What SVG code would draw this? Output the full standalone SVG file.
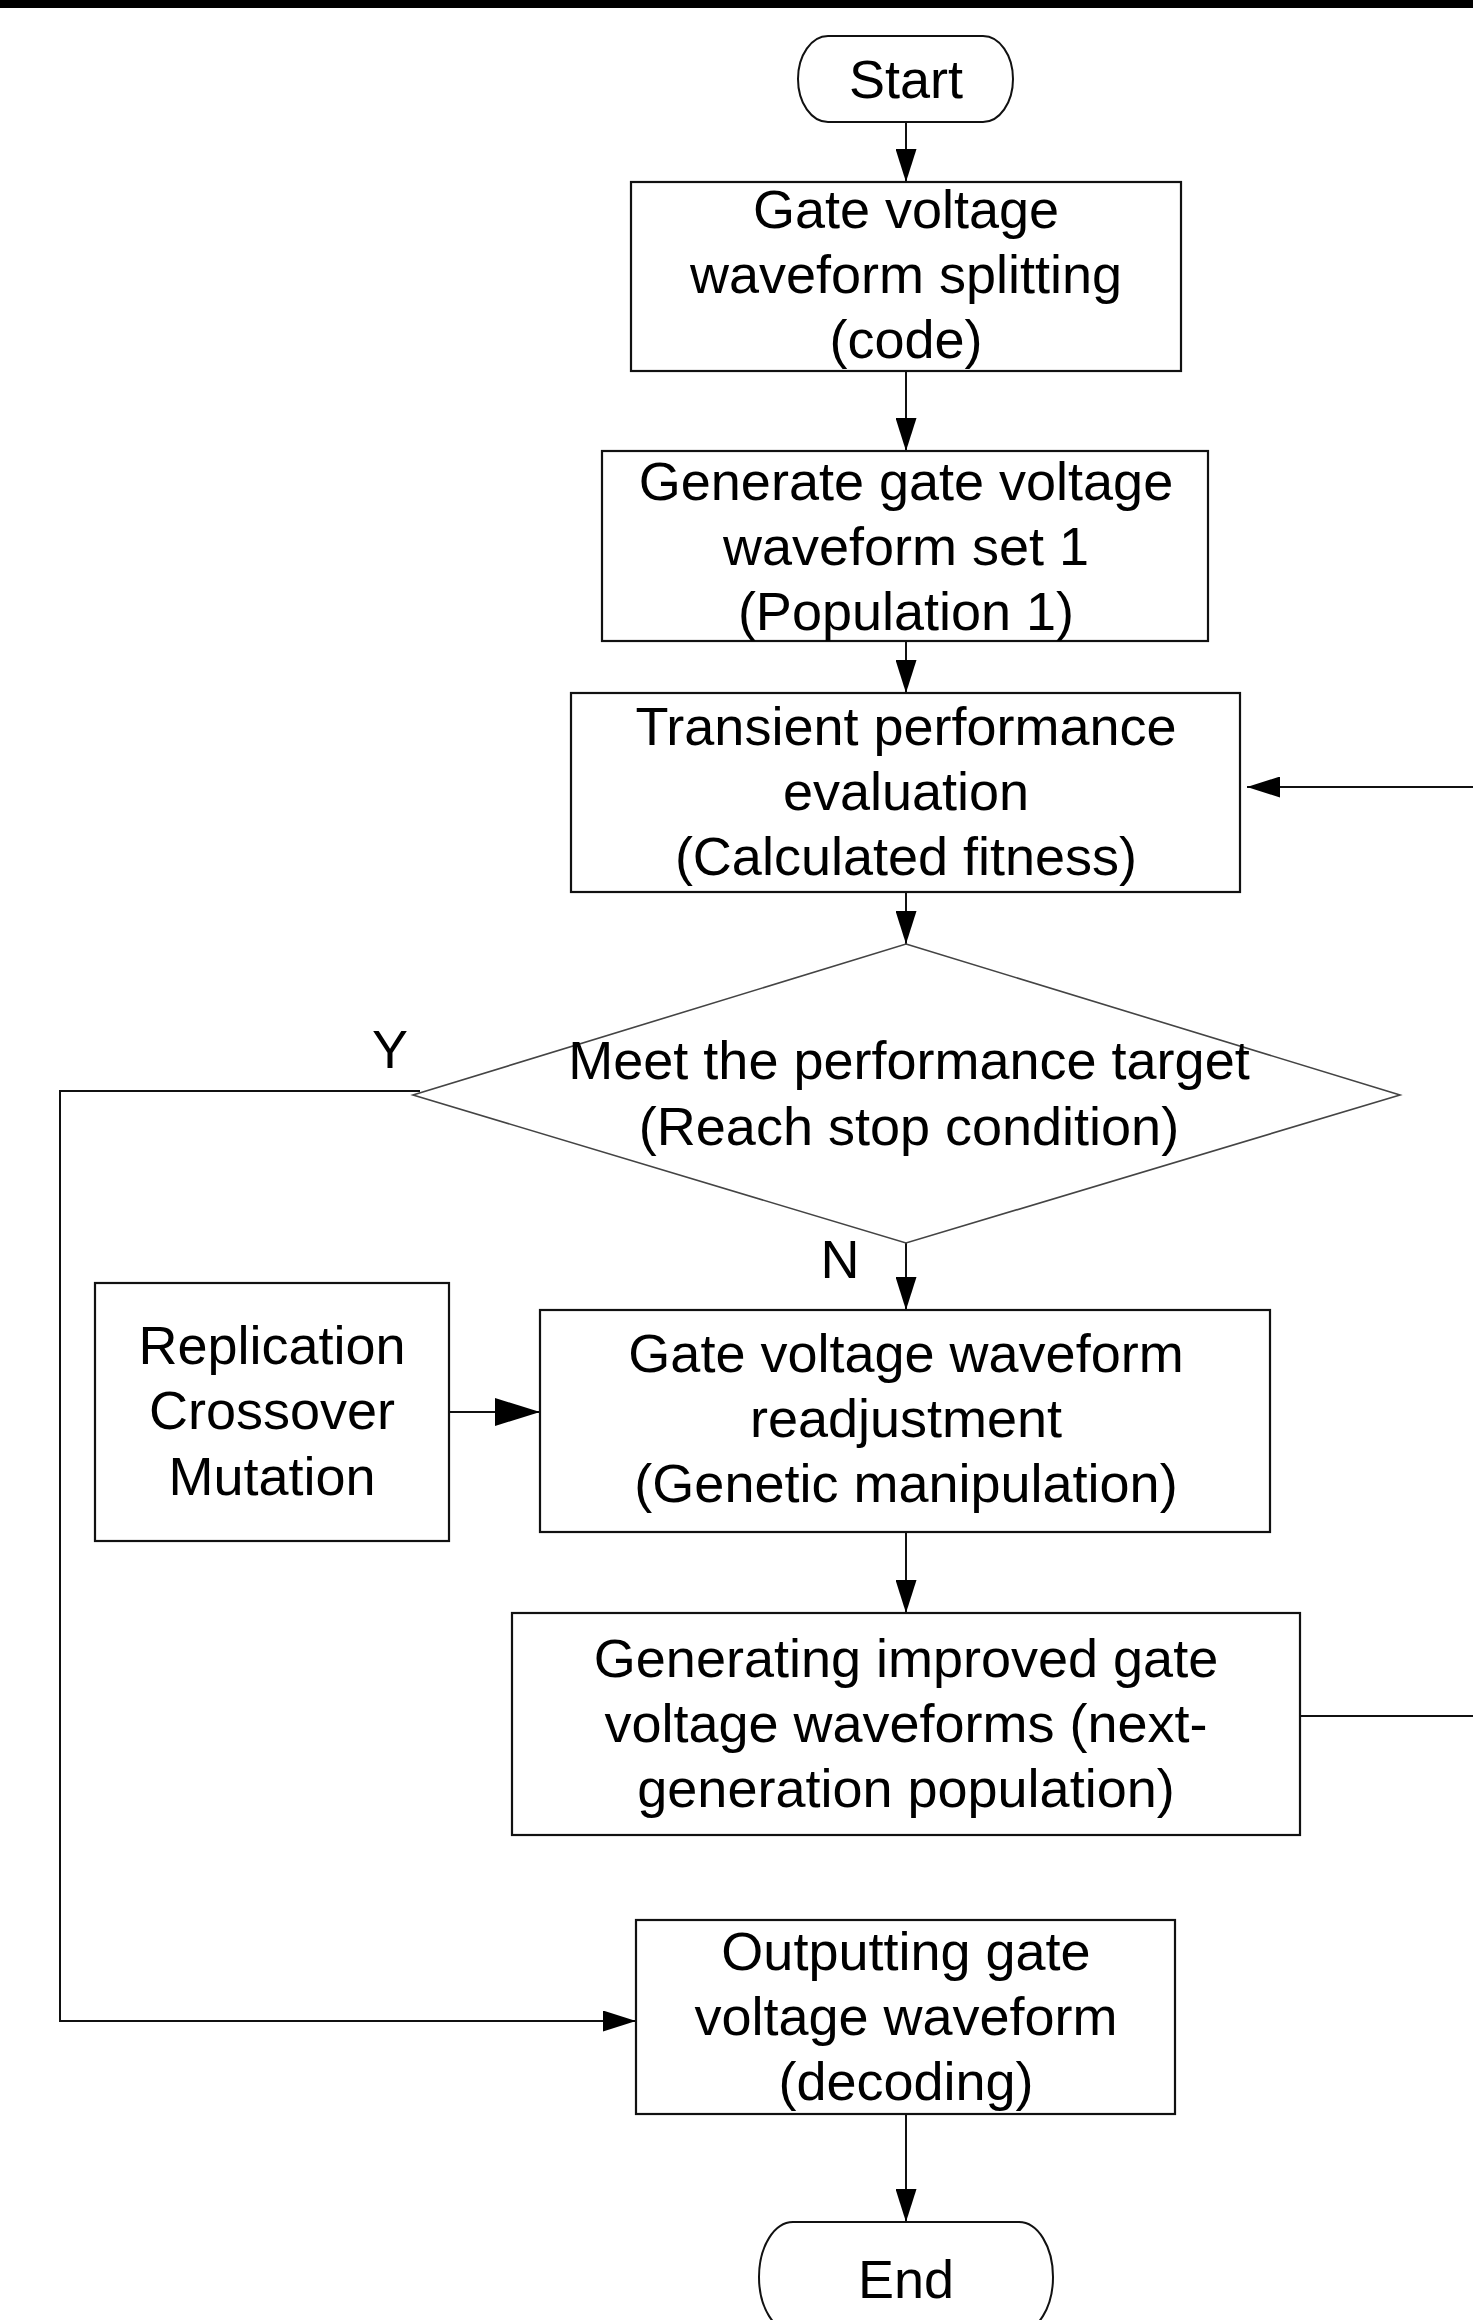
<svg xmlns="http://www.w3.org/2000/svg" width="1473" height="2320" viewBox="0 0 1473 2320">
  <defs>
    <style>
      .box { fill: #ffffff; stroke: #111111; stroke-width: 2.2; }
      .term { fill: #ffffff; stroke: #111111; stroke-width: 2; }
      .dia { fill: #ffffff; stroke: #444444; stroke-width: 1.6; }
      .wire { fill: none; stroke: #111111; stroke-width: 2; }
      .lbl { font-family: "Liberation Sans", Arial, sans-serif; font-size: 54px; fill: #000000; text-anchor: middle; }
    </style>
    <marker id="arr" markerUnits="userSpaceOnUse" markerWidth="33" markerHeight="21" refX="33" refY="10.5" orient="auto">
      <path d="M0,0 L33,10.5 L0,21 Z" fill="#000000"/>
    </marker>
    <marker id="arrBig" markerUnits="userSpaceOnUse" markerWidth="45" markerHeight="28" refX="45" refY="14" orient="auto">
      <path d="M0,0 L45,14 L0,28 Z" fill="#000000"/>
    </marker>
  </defs>

  <rect x="0" y="0" width="1473" height="2320" fill="#ffffff"/>
  <rect x="0" y="0" width="1473" height="8" fill="#000000"/>

  <!-- connectors -->
  <g id="connectors">
    <line class="wire" x1="906" y1="122" x2="906" y2="182" marker-end="url(#arr)"/>
    <line class="wire" x1="906" y1="371" x2="906" y2="451" marker-end="url(#arr)"/>
    <line class="wire" x1="906" y1="641" x2="906" y2="693" marker-end="url(#arr)"/>
    <line class="wire" x1="906" y1="892" x2="906" y2="944" marker-end="url(#arr)"/>
    <line class="wire" x1="906" y1="1243" x2="906" y2="1310" marker-end="url(#arr)"/>
    <line class="wire" x1="449" y1="1412" x2="540" y2="1412" marker-end="url(#arrBig)"/>
    <line class="wire" x1="906" y1="1532" x2="906" y2="1613" marker-end="url(#arr)"/>
    <!-- loop back from the next generation to the evaluation step (return leg runs past the right edge) -->
    <path class="wire" d="M1300,1716 H1500 V787 H1247" marker-end="url(#arr)"/>
    <!-- Y branch to the output step -->
    <path class="wire" d="M420,1091 H60 V2021 H636" marker-end="url(#arr)"/>
    <line class="wire" x1="906" y1="2114" x2="906" y2="2222" marker-end="url(#arr)"/>
    <text class="lbl" x="390" y="1068">Y</text>
    <text class="lbl" x="840" y="1278">N</text>
  </g>

  <g id="start">
    <rect class="term" x="798" y="36" width="215" height="86" rx="30" ry="43"/>
    <text class="lbl" x="906" y="98">Start</text>
  </g>

  <g id="split">
    <rect class="box" x="631" y="182" width="550" height="189"/>
    <text class="lbl" x="906" y="228">Gate voltage</text>
    <text class="lbl" x="906" y="293">waveform splitting</text>
    <text class="lbl" x="906" y="358">(code)</text>
  </g>

  <g id="population1">
    <rect class="box" x="602" y="451" width="606" height="190"/>
    <text class="lbl" x="906" y="500">Generate gate voltage</text>
    <text class="lbl" x="906" y="565">waveform set 1</text>
    <text class="lbl" x="906" y="630">(Population 1)</text>
  </g>

  <g id="evaluation">
    <rect class="box" x="571" y="693" width="669" height="199"/>
    <text class="lbl" x="906" y="745">Transient performance</text>
    <text class="lbl" x="906" y="810">evaluation</text>
    <text class="lbl" x="906" y="875">(Calculated fitness)</text>
  </g>

  <g id="decision">
    <polygon class="dia" points="906,944 1400,1095 906,1243 413,1095"/>
    <text class="lbl" x="909" y="1079">Meet the performance target</text>
    <text class="lbl" x="909" y="1145">(Reach stop condition)</text>
  </g>

  <g id="operators">
    <rect class="box" x="95" y="1283" width="354" height="258"/>
    <text class="lbl" x="272" y="1364">Replication</text>
    <text class="lbl" x="272" y="1429">Crossover</text>
    <text class="lbl" x="272" y="1495">Mutation</text>
  </g>

  <g id="readjust">
    <rect class="box" x="540" y="1310" width="730" height="222"/>
    <text class="lbl" x="906" y="1372">Gate voltage waveform</text>
    <text class="lbl" x="906" y="1437">readjustment</text>
    <text class="lbl" x="906" y="1502">(Genetic manipulation)</text>
  </g>

  <g id="next-generation">
    <rect class="box" x="512" y="1613" width="788" height="222"/>
    <text class="lbl" x="906" y="1677">Generating improved gate</text>
    <text class="lbl" x="906" y="1742">voltage waveforms (next-</text>
    <text class="lbl" x="906" y="1807">generation population)</text>
  </g>

  <g id="output">
    <rect class="box" x="636" y="1920" width="539" height="194"/>
    <text class="lbl" x="906" y="1970">Outputting gate</text>
    <text class="lbl" x="906" y="2035">voltage waveform</text>
    <text class="lbl" x="906" y="2100">(decoding)</text>
  </g>

  <g id="end">
    <rect class="term" x="759" y="2222" width="294" height="110" rx="34" ry="55"/>
    <text class="lbl" x="906" y="2298">End</text>
  </g>
</svg>
